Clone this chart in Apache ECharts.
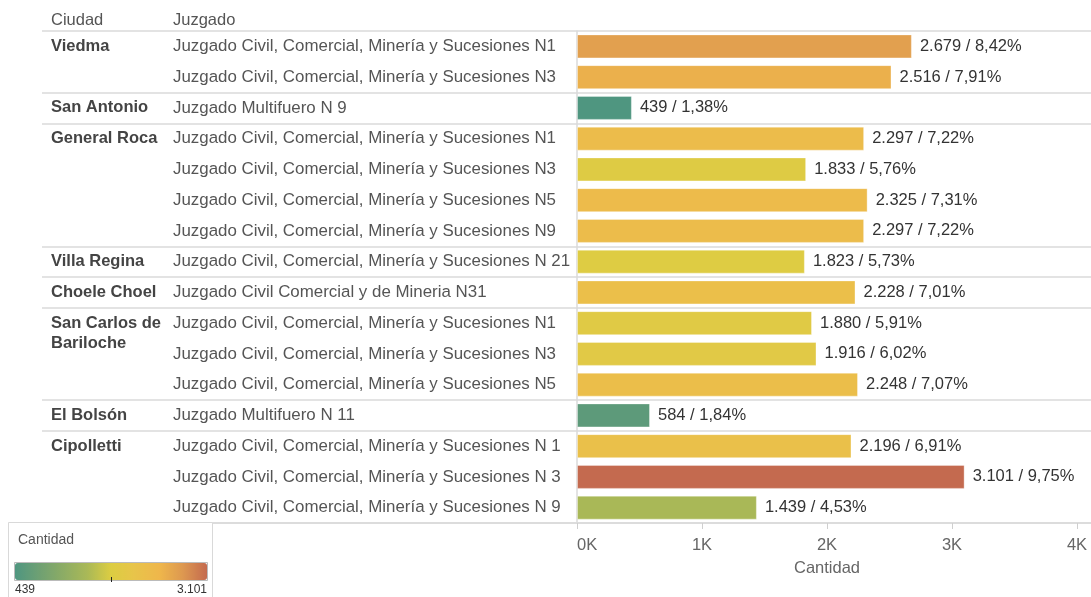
<!DOCTYPE html>
<html>
<head>
<meta charset="utf-8">
<script src="https://cdn.jsdelivr.net/npm/echarts@6/dist/echarts.min.js"></script>
<style>
  html, body { margin: 0; padding: 0; background: #fff; }
  #chart { width: 1091px; height: 597px; }
</style>
</head>
<body>
<div id="chart"></div>
<script>
// ciudad de cada fila ('' = sigue la ciudad de arriba)
var ciudades = ['Viedma', '', 'San Antonio', 'General Roca', '', '', '', 'Villa Regina',
  'Choele Choel', 'San Carlos de\nBariloche', '', '', 'El Bolsón', 'Cipolletti', '', ''];

var juzgados = [
  'Juzgado Civil, Comercial, Minería y Sucesiones N1',
  'Juzgado Civil, Comercial, Minería y Sucesiones N3',
  'Juzgado Multifuero N 9',
  'Juzgado Civil, Comercial, Minería y Sucesiones N1',
  'Juzgado Civil, Comercial, Minería y Sucesiones N3',
  'Juzgado Civil, Comercial, Minería y Sucesiones N5',
  'Juzgado Civil, Comercial, Minería y Sucesiones N9',
  'Juzgado Civil, Comercial, Minería y Sucesiones N 21',
  'Juzgado Civil Comercial y de Mineria N31',
  'Juzgado Civil, Comercial, Minería y Sucesiones N1',
  'Juzgado Civil, Comercial, Minería y Sucesiones N3',
  'Juzgado Civil, Comercial, Minería y Sucesiones N5',
  'Juzgado Multifuero N 11',
  'Juzgado Civil, Comercial, Minería y Sucesiones N 1',
  'Juzgado Civil, Comercial, Minería y Sucesiones N 3',
  'Juzgado Civil, Comercial, Minería y Sucesiones N 9'
];

var cantidades = [2679, 2516, 439, 2297, 1833, 2325, 2297, 1823, 2228, 1880, 1916, 2248, 584, 2196, 3101, 1439];
var porcentajes = ['8,42%', '7,91%', '1,38%', '7,22%', '5,76%', '7,31%', '7,22%', '5,73%',
  '7,01%', '5,91%', '6,02%', '7,07%', '1,84%', '6,91%', '9,75%', '4,53%'];

var ejeTicks = [0, 1000, 2000, 3000, 4000];

// paleta divergente (verde - dorado - rojo)
var paleta = ['#4f9680', '#6ea073', '#8cac65', '#a9b857', '#dccd42', '#e8c44a', '#efb74b', '#dd9850', '#c46a4f'];

var fuente = "'Liberation Sans', Arial, sans-serif";
var gris = '#dadada';

var filas = juzgados.map(function (j, i) { return String(i); });

function miles(v) {
  return String(v).replace(/\B(?=(\d{3})+(?!\d))/g, '.');
}

var minC = Math.min.apply(null, cantidades);
var maxC = Math.max.apply(null, cantidades);

var chart = echarts.init(document.getElementById('chart'), null, { renderer: 'canvas' });

var option = {
  animation: false,
  textStyle: { fontFamily: fuente },
  grid: [
    // lineas separadoras de ancho completo + columna Ciudad
    { left: 42, right: 0, top: 31, bottom: 74, outerBoundsMode: 'none', containLabel: false },
    // barras + columna Juzgado
    { left: 577, right: 14, top: 31, bottom: 74, outerBoundsMode: 'none', containLabel: false }
  ],
  xAxis: [
    {
      gridIndex: 0, type: 'value', min: 0, max: 1,
      axisLine: { show: true, lineStyle: { color: gris, width: 1.5 } },
      axisTick: { show: false }, axisLabel: { show: false }, splitLine: { show: false }
    },
    {
      gridIndex: 1, type: 'value',
      min: ejeTicks[0], max: ejeTicks[ejeTicks.length - 1], interval: ejeTicks[1] - ejeTicks[0],
      axisLine: { show: false },
      axisTick: { show: true, length: 6, lineStyle: { color: '#cfcfcf' } },
      splitLine: { show: false },
      axisLabel: {
        color: '#666', fontSize: 16.5, margin: 14,
        alignMinLabel: 'left',
        formatter: function (v) { return (v / 1000) + 'K'; }
      },
      name: 'Cantidad', nameLocation: 'middle', nameGap: 37,
      nameTextStyle: { color: '#666', fontSize: 16.5 }
    }
  ],
  yAxis: [
    {
      gridIndex: 0, type: 'category', inverse: true, data: filas,
      axisLine: { show: false }, axisTick: { show: false },
      axisLabel: {
        inside: true, interval: 0, align: 'left', margin: 9,
        color: '#444', fontSize: 16.5, fontWeight: 'bold', lineHeight: 20,
        rich: { s: { lineHeight: 20, fontSize: 16.5 } },
        formatter: function (v, i) {
          var c = ciudades[i];
          // nombre en dos lineas: la primera queda alineada con la fila
          return c.indexOf('\n') >= 0 ? '{s| }\n' + c : c;
        }
      },
      splitLine: {
        show: true,
        interval: function (i) { return ciudades[i] !== ''; },
        lineStyle: { color: gris, width: 1.5 }
      }
    },
    {
      gridIndex: 1, type: 'category', data: filas, inverse: true,
      axisLine: { show: true, lineStyle: { color: gris, width: 1.5 } },
      axisTick: { show: false },
      axisLabel: {
        interval: 0, align: 'left', margin: 404, color: '#555', fontSize: 16.9,
        formatter: function (v, i) { return juzgados[i]; }
      }
    }
  ],
  visualMap: {
    type: 'continuous',
    min: minC, max: maxC,
    dimension: 0, seriesIndex: 0,
    orient: 'horizontal',
    left: 15, top: 563, padding: 0,
    itemWidth: 17, itemHeight: 192,
    text: null, calculable: false, hoverLink: false,
    inRange: { color: paleta },
    z: 20
  },
  graphic: [
    { type: 'text', left: 51, top: 12, style: { text: 'Ciudad', fill: '#555', font: '16.5px ' + fuente } },
    { type: 'text', left: 173, top: 12, style: { text: 'Juzgado', fill: '#555', font: '16.5px ' + fuente } },
    // caja de la leyenda
    { type: 'rect', z: 10, shape: { x: 8.5, y: 522.5, width: 204, height: 90 },
      style: { fill: '#fff', stroke: '#d9d9d9', lineWidth: 1 } },
    { type: 'text', z: 11, left: 18, top: 533, style: { text: 'Cantidad', fill: '#555', font: '14px ' + fuente } },
    { type: 'rect', z: 30, shape: { x: 14.5, y: 562.5, width: 193, height: 18 },
      style: { fill: null, stroke: '#bbb', lineWidth: 1 } },
    { type: 'line', z: 31, shape: { x1: 111.5, y1: 577, x2: 111.5, y2: 582 }, style: { stroke: '#222', lineWidth: 1 } },
    { type: 'text', z: 11, left: 15, top: 584, style: { text: miles(minC), fill: '#333', font: '12px ' + fuente } },
    { type: 'text', z: 11, right: 1091 - 207, top: 584, style: { text: miles(maxC), fill: '#333', font: '12px ' + fuente } }
  ],
  series: [{
    type: 'bar',
    xAxisIndex: 1, yAxisIndex: 1,
    barWidth: 24,
    data: cantidades.map(function (v, i) { return [v, i]; }),
    itemStyle: { borderColor: 'rgba(255,255,255,0.35)', borderWidth: 1 },
    label: {
      show: true, position: 'right', distance: 8,
      color: '#333', fontSize: 16.5,
      formatter: function (p) { return miles(p.value[0]) + ' / ' + porcentajes[p.dataIndex]; }
    }
  }]
};

chart.setOption(option);
</script>
</body>
</html>
